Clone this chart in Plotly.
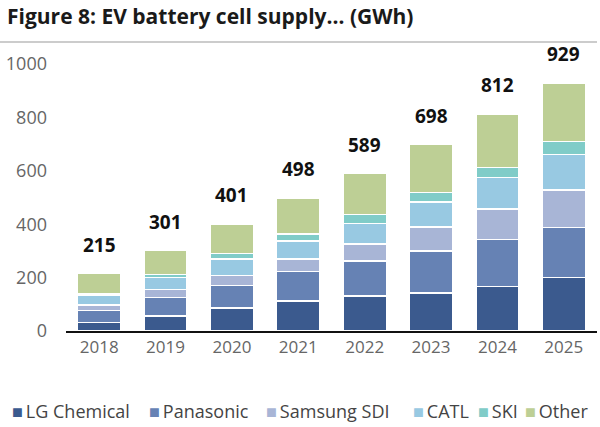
import plotly.graph_objects as go

years = ["2018", "2019", "2020", "2021", "2022", "2023", "2024", "2025"]
lg_chemical = [31, 57, 87, 113, 131, 143, 166, 201]
panasonic = [46, 69, 83, 109, 132, 157, 177, 186]
samsung_sdi = [20, 30, 37, 48, 62, 89, 114, 141]
catl = [38, 45, 63, 68, 78, 95, 117, 134]
ski = [6, 11, 21, 25, 34, 35, 39, 47]
other = [74, 89, 110, 135, 152, 179, 199, 220]
totals = [215, 301, 401, 498, 589, 698, 812, 929]
y_ticks = [0, 200, 400, 600, 800, 1000]

series = [
    ("LG Chemical", lg_chemical, "#3b5a8e"),
    ("Panasonic", panasonic, "#6682b4"),
    ("Samsung SDI", samsung_sdi, "#a8b5d6"),
    ("CATL", catl, "#98c9e2"),
    ("SKI", ski, "#80ccc8"),
    ("Other", other, "#bdcf95"),
]

FONT = "Open Sans"
L, R, T, B = 66, 3, 64, 96
PW, PH = 600 - L - R, 427 - T - B


def px(x):
    return (x - L) / PW


def py(y):
    return (427 - B - y) / PH


fig = go.Figure()
for name, vals, col in series:
    fig.add_trace(go.Bar(
        x=years, y=vals, name=name,
        marker=dict(color=col, line=dict(color="white", width=1.5)),
        showlegend=False,
    ))

for i, t in enumerate(totals):
    fig.add_annotation(x=i, y=t, text="<b>%d</b>" % t, showarrow=False,
                       yshift=29, font=dict(family=FONT, size=19, color="#111111"))

# legend drawn as text items under the plot
legend_x = [10, 147, 264, 411, 476, 523]
for (name, vals, col), lx in zip(series, legend_x):
    fig.add_annotation(xref="paper", yref="paper",
                       x=px(lx), y=py(411),
                       xanchor="left", yanchor="middle", showarrow=False,
                       text="<span style='color:%s'>■</span>\u2009%s" % (col, name),
                       font=dict(family=FONT, size=18, color="#444444"))

# title and rule
fig.add_annotation(xref="paper", yref="paper", x=px(5), y=py(16),
                   xanchor="left", yanchor="middle", showarrow=False,
                   text="<b>Figure 8: EV battery cell supply… (GWh)</b>",
                   font=dict(family=FONT, size=21, color="#1a1a1a"))
fig.add_shape(type="line", xref="paper", yref="paper",
              x0=px(0), x1=px(597), y0=py(42), y1=py(42),
              line=dict(color="#cccccc", width=2))

fig.update_layout(
    barmode="stack", bargap=0.35,
    width=600, height=427,
    margin=dict(l=L, r=R, t=T, b=B),
    plot_bgcolor="white", paper_bgcolor="white",
    font=dict(family=FONT, size=17, color="#666666"),
    xaxis=dict(type="category", range=[-0.5, 7.5], showline=True,
               linecolor="#111111", linewidth=2,
               ticks="", showgrid=False, tickfont=dict(size=17, color="#666666")),
    yaxis=dict(range=[0, 1000], tickvals=y_ticks, showgrid=False, zeroline=False,
               showline=False, ticks="", ticklabelstandoff=18,
               tickfont=dict(size=18, color="#666666")),
)
fig.write_html("out.html", config={"displayModeBar": False},
               post_script="document.body.style.margin='0';")
